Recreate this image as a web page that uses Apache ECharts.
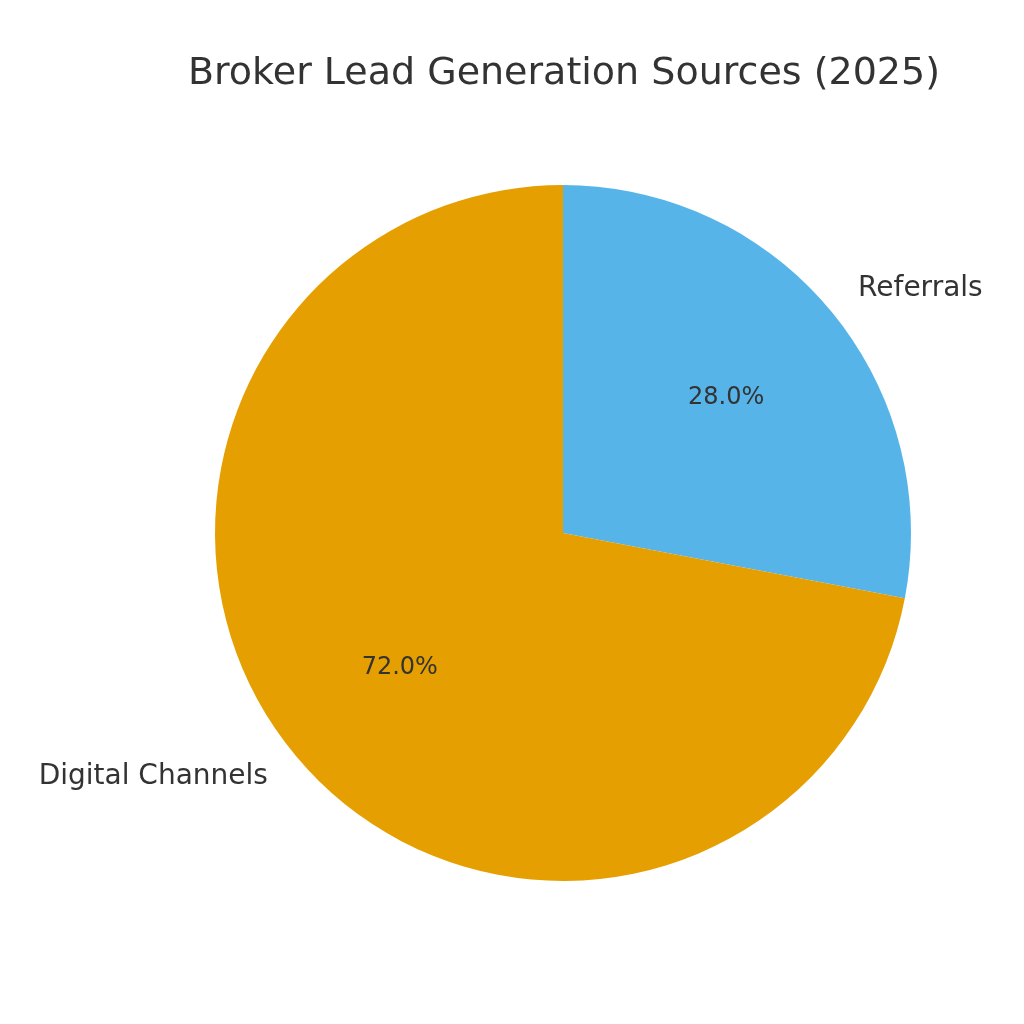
<!DOCTYPE html>
<html>
<head>
<meta charset="utf-8">
<script src="https://cdn.jsdelivr.net/npm/echarts@6/dist/echarts.min.js"></script>
<style>html,body{margin:0;padding:0;background:#fff}#c{width:1024px;height:1024px}</style>
</head>
<body>
<div id="c"></div>
<script>
const titleText = 'Broker Lead Generation Sources (2025)';
const categories = ['Referrals', 'Digital Channels'];
const values = [28.0, 72.0];
const colors = ['#56B4E9', '#E69F00'];

const chart = echarts.init(document.getElementById('c'), null, {renderer: 'canvas'});
const font = 'DejaVu Sans';
const textColor = '#333333';
const data = categories.map((n, i) => ({name: n, value: values[i], itemStyle: {color: colors[i]}}));
const dataInner = categories.map((n, i) => ({name: n, value: values[i]}));
const R = 348;
chart.setOption({
  animation: false,
  backgroundColor: '#ffffff',
  title: {
    text: titleText, left: 559, top: 50, textAlign: 'center',
    textStyle: {fontFamily: font, fontSize: 38, fontWeight: 'normal', color: textColor}
  },
  series: [
    {
      type: 'pie', center: [563, 533], radius: [0, R], startAngle: 90, clockwise: true,
      data: data, silent: true,
      itemStyle: {borderWidth: 0},
      label: {show: true, position: 'outside', fontFamily: font, fontSize: 28, color: textColor,
        distanceToLabelLine: 0},
      labelLine: {show: false, length: 35, length2: 0},
      labelLayout: {hideOverlap: false}
    },
    {
      type: 'pie', center: [563, 533], radius: [0, R * 1.2], startAngle: 90, clockwise: true,
      data: dataInner, silent: true,
      itemStyle: {color: 'rgba(0,0,0,0)', borderWidth: 0},
      label: {show: true, position: 'inside', fontFamily: font, fontSize: 24, color: textColor,
        formatter: p => p.value.toFixed(1) + '%'},
      labelLine: {show: false}
    }
  ]
});
</script>
</body>
</html>
